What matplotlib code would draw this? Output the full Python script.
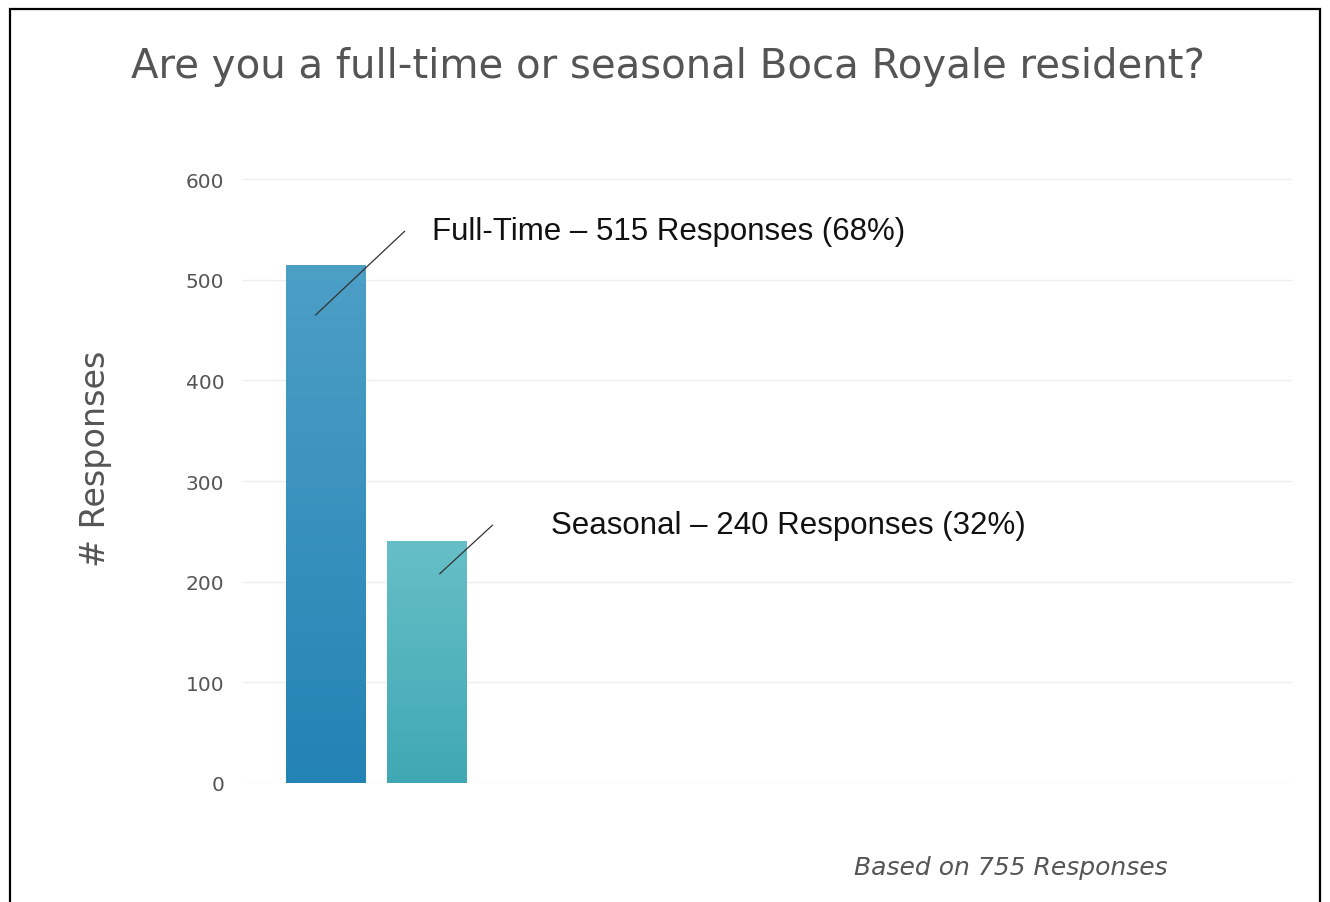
import numpy as np
import matplotlib
matplotlib.use("Agg")
import matplotlib.pyplot as plt
from matplotlib.patches import Rectangle
from matplotlib.colors import LinearSegmentedColormap

categories = ["Full-Time", "Seasonal"]
responses = [515, 240]
percents = [68, 32]
total = 755
yticks = [0, 100, 200, 300, 400, 500, 600]
title = "Are you a full-time or seasonal Boca Royale resident?"

top_colors = ["#4d9fc6", "#66bfc6"]
bottom_colors = ["#2383b4", "#40a8b4"]

W, H = 1330, 903
fig = plt.figure(figsize=(W / 100, H / 100), dpi=100)
fig.patch.set_facecolor("white")

ax_bottom = (H - 784) / H
px_per_unit = 604 / 600
ymax = 612
ax_height = ymax * px_per_unit / H
ax = fig.add_axes([243 / W, ax_bottom, (1292 - 243) / W, ax_height])
ax.set_facecolor("white")

x = np.arange(len(categories))
width = 0.79
bars = ax.bar(x, responses, width=width, color=bottom_colors, zorder=2)

# gradient fill
for b, ct, cb in zip(bars, top_colors, bottom_colors):
    cmap = LinearSegmentedColormap.from_list("g", [cb, ct])
    grad = np.linspace(0, 1, 256).reshape(-1, 1)
    x0, y0 = b.get_x(), b.get_y()
    im = ax.imshow(grad, cmap=cmap, origin="lower", aspect="auto",
                   extent=[x0, x0 + b.get_width(), y0, y0 + b.get_height()],
                   zorder=2.5)
    im.set_clip_path(b)

ax.set_xlim(-0.82, 9.57)
ax.set_ylim(0, ymax)
ax.set_yticks(yticks)
ax.set_xticks([])
ax.tick_params(axis="y", length=0, pad=13.5, labelsize=14.5, labelcolor="#555555")
for lbl in ax.get_yticklabels():
    lbl.set_fontfamily("DejaVu Sans")
ax.grid(axis="y", color="#eeeeee", linewidth=1, zorder=0)
for s in ax.spines.values():
    s.set_visible(False)

fig.text(95 / W, 1 - 459 / H, "# Responses", fontsize=24, color="#555555",
         rotation=90, ha="center", va="center", fontfamily="DejaVu Sans")

# annotations
label_offsets = [((-0.1, -50), (0.78, 33), (1.05, 33)),
                 ((0.13, -32), (0.65, 16), (1.23, 16))]
for i, (cat, val, pct) in enumerate(zip(categories, responses, percents)):
    (dx0, dy0), (dx1, dy1), (dxt, dyt) = label_offsets[i]
    ax.plot([x[i] + dx0, x[i] + dx1], [val + dy0, val + dy1],
            color="#333333", linewidth=0.9, zorder=3)
    ax.text(x[i] + dxt, val + dyt, f"{cat} \u2013 {val} Responses ({pct}%)",
            fontsize=22.5, color="#111111", fontfamily="Liberation Sans",
            va="center", ha="left", zorder=4)

fig.text(668 / W, 1 - 67 / H, title, fontsize=29, color="#555555",
         ha="center", va="center", fontfamily="DejaVu Sans")
fig.text(1011 / W, 1 - 868 / H, f"Based on {total} Responses", fontsize=18,
         color="#555555", ha="center", va="center", style="italic",
         fontfamily="DejaVu Sans")

# outer frame
fig.add_artist(Rectangle((10 / W, -0.05), (1320 - 10) / W, (H - 10) / H + 0.05,
                         transform=fig.transFigure, fill=False,
                         edgecolor="black", linewidth=1.6))

fig.savefig("out.png", dpi=100, facecolor="white")
